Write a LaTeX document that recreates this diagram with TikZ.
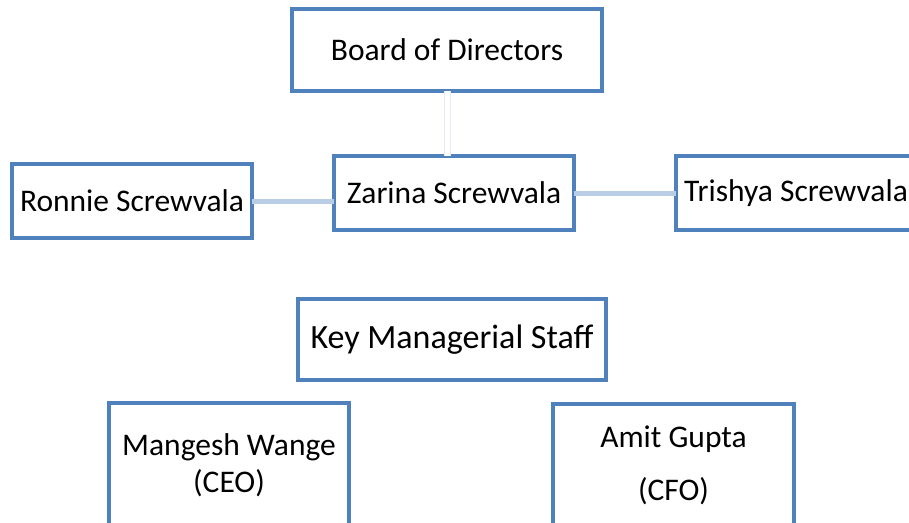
\documentclass[tikz,border=0pt]{standalone}
\usepackage{fontspec}
\setmainfont{Carlito}
\definecolor{boxblue}{HTML}{4F81BD}
\definecolor{linkblue}{HTML}{B9CDE5}
\definecolor{faintblue}{HTML}{E4EBF5}
\begin{document}
\begin{tikzpicture}[x=1pt,y=-1pt,
  box/.style={draw=boxblue,line width=3.2pt,fill=white,inner sep=0pt,outer sep=0pt,
    minimum width=240pt,minimum height=74pt,font=\fontsize{31.5}{37}\selectfont},
  label/.style={inner sep=0pt,outer sep=0pt,anchor=base,font=\fontsize{31.5}{37}\selectfont},
  link/.style={draw=linkblue,line width=5pt},
  faintlink/.style={draw=faintblue,line width=1pt,double=white,double distance=5pt}]
\useasboundingbox (0,0) rectangle (909,522);
\clip (0,0) rectangle (909,522);
% top group
\node[box,minimum width=310pt,minimum height=82pt] (board) at (447,50) {Board of Directors};
\node[box] (zarina) at (454,193) {Zarina Screwvala};
\node[box] (ronnie) at (132,201) {Ronnie Screwvala};
\node[box] (trishya) at (796,193) {Trishya Screwvala};
\draw[faintlink] (board.south) -- (board.south |- zarina.north);
\draw[link] (ronnie.east) -- (zarina.west |- ronnie.east);
\draw[link] (zarina.east) -- (trishya.west);
% key managerial staff
\node[box,minimum width=308pt,minimum height=81pt,font=\fontsize{34}{40}\selectfont] (kms) at (452,339.5) {Key Managerial Staff};
\node[box,minimum height=150pt] (mangesh) at (229,478) {};
\node[box,minimum width=241pt,minimum height=150pt] (amit) at (673.5,479) {};
\node[label] (mangeshname) at (229,455) {Mangesh Wange};
\node[label] (mangeshrole) at (229,492) {(CEO)};
\node[label] (amitname) at (673.5,447) {Amit Gupta};
\node[label] (amitrole) at (673.5,500) {(CFO)};
\end{tikzpicture}
\end{document}
